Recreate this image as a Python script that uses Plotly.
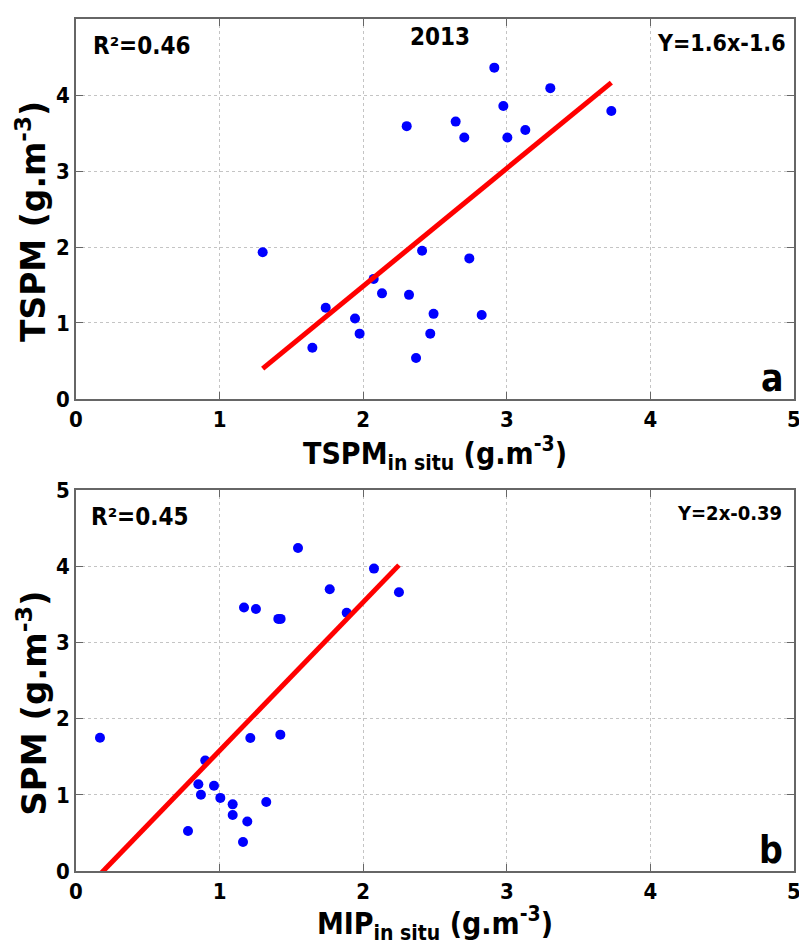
import plotly.graph_objects as go
from plotly.subplots import make_subplots

# Panel a: TSPM (2013)
tspm_insitu = [1.30, 1.646, 1.739, 1.943, 1.975, 2.073, 2.131, 2.303, 2.319, 2.368,
               2.41, 2.467, 2.49, 2.644, 2.704, 2.913, 2.976, 3.004, 3.129, 3.303,
               3.728, 2.739, 2.825]
tspm_sat = [1.93, 0.675, 1.20, 1.06, 0.86, 1.58, 1.39, 3.59, 1.37, 0.54,
            1.95, 0.86, 1.12, 3.65, 3.44, 4.36, 3.855, 3.44, 3.54, 4.09,
            3.79, 1.85, 1.105]
fit_a = (1.55, -1.615)  # slope, intercept as drawn

# Panel b: SPM vs MIP
mip_insitu = [0.167, 0.78, 0.852, 0.870, 0.90, 0.961, 1.005, 1.091, 1.091, 1.163,
              1.17, 1.193, 1.214, 1.253, 1.325, 1.409, 1.425, 1.423, 1.546, 1.767,
              1.885, 2.075, 2.249]
spm_sat = [1.75, 0.525, 1.14, 1.00, 1.45, 1.12, 0.96, 0.875, 0.735, 0.38,
           3.46, 0.65, 1.745, 3.44, 0.905, 3.31, 3.31, 1.79, 4.24, 3.70,
           3.39, 3.97, 3.66]
fit_b = (1.95, -0.37)

ticks = [0, 1, 2, 3, 4, 5]
FONT = "DejaVu Sans Condensed, Liberation Sans Narrow, Arial Narrow, Liberation Sans, sans-serif"
WIDE = "DejaVu Sans, Liberation Sans, sans-serif"

fig = make_subplots(rows=2, cols=1, vertical_spacing=0.107)

def add_panel(row, xs, ys, fit):
    fig.add_trace(go.Scatter(x=xs, y=ys, mode="markers",
                             marker=dict(color="#0000FF", size=10),
                             showlegend=False), row=row, col=1)
    lx = [min(xs), max(xs)]
    ly = [fit[0] * v + fit[1] for v in lx]
    fig.add_trace(go.Scatter(x=lx, y=ly, mode="lines",
                             line=dict(color="#FF0000", width=5),
                             showlegend=False), row=row, col=1)

add_panel(1, tspm_insitu, tspm_sat, fit_a)
add_panel(2, mip_insitu, spm_sat, fit_b)

axis_common = dict(range=[0, 5], tickvals=ticks, showline=True, linecolor="#666666",
                   linewidth=1.5, mirror="allticks", ticks="inside", ticklen=7,
                   tickcolor="#666666", showgrid=True, gridcolor="#C4C4C4",
                   griddash="dot", gridwidth=1, zeroline=False, automargin=False,
                   tickfont=dict(family=FONT, size=22, color="black", weight="bold"))

fig.update_xaxes(**axis_common)
fig.update_yaxes(**axis_common)

fig.update_xaxes(title=dict(text="<b>TSPM<sub>in situ</sub> (g.m<sup>-3</sup>)</b>",
                            font=dict(family=FONT, size=30, color="black"), standoff=2),
                 row=1, col=1)
fig.update_xaxes(title=dict(text="<b>MIP<sub>in situ</sub> (g.m<sup>-3</sup>)</b>",
                            font=dict(family=FONT, size=30, color="black"), standoff=2),
                 row=2, col=1)

def ann(text, x, y, ya, ax, size, xanchor, family=FONT, angle=0):
    fig.add_annotation(text=text, x=x, y=y, xref=f"{ax} domain", yref=f"{ya} domain",
                       showarrow=False, xanchor=xanchor, yanchor="middle",
                       textangle=angle,
                       font=dict(family=family, size=size, color="black"))

# y-axis titles
ann("<b>TSPM (g.m<sup>-3</sup>)</b>", -0.061, 0.466, "y", "x", 33, "center", WIDE, -90)
ann("<b>SPM (g.m<sup>-3</sup>)</b>", -0.061, 0.44, "y2", "x2", 34, "center", WIDE, -90)

# Panel a texts
ann("<b>R²=0.46</b>", 0.021, 0.93, "y", "x", 24, "left")
ann("<b>2013</b>", 0.507, 0.953, "y", "x", 24, "center")
ann("<b>Y=1.6x-1.6</b>", 0.991, 0.938, "y", "x", 23, "right")
ann("<b>a</b>", 0.988, 0.055, "y", "x", 37, "right")
# Panel b texts
ann("<b>R²=0.45</b>", 0.018, 0.929, "y2", "x2", 24, "left")
ann("<b>Y=2x-0.39</b>", 0.986, 0.94, "y2", "x2", 20, "right")
ann("<b>b</b>", 0.988, 0.055, "y2", "x2", 37, "right")

# page has an 8px default body margin; figure sized to fit the 807x945 window
fig.update_layout(width=799, height=937, plot_bgcolor="white", paper_bgcolor="white",
                  margin=dict(l=68, r=13, t=11, b=74, autoexpand=False),
                  font=dict(family=FONT, color="black"))
fig.update_yaxes(domain=[0.554, 1.0], row=1, col=1)
fig.update_yaxes(domain=[0.0, 0.447], row=2, col=1)

fig.write_html("out.html")
